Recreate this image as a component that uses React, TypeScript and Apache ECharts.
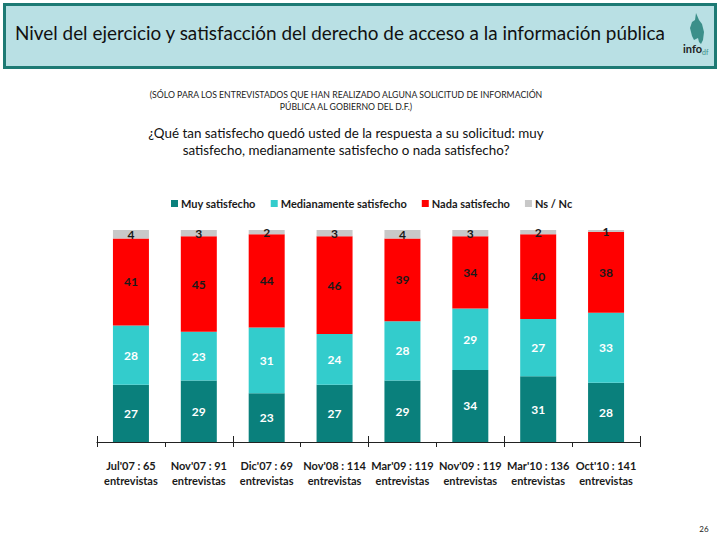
import React, { useEffect, useRef } from "react";
import * as echarts from "echarts";

const categories = [
  "Jul'07 : 65\nentrevistas",
  "Nov'07 : 91\nentrevistas",
  "Dic'07 : 69\nentrevistas",
  "Nov'08 : 114\nentrevistas",
  "Mar'09 : 119\nentrevistas",
  "Nov'09 : 119\nentrevistas",
  "Mar'10 : 136\nentrevistas",
  "Oct'10 : 141\nentrevistas",
];
const muySatisfecho = [27, 29, 23, 27, 29, 34, 31, 28];
const medianamente = [28, 23, 31, 24, 28, 29, 27, 33];
const nadaSatisfecho = [41, 45, 44, 46, 39, 34, 40, 38];
const nsNc = [4, 3, 2, 3, 4, 3, 2, 1];

const FONT = "Lato, 'Open Sans', sans-serif";

export default function App() {
  const ref = useRef<HTMLDivElement>(null);
  useEffect(() => {
    if (!ref.current) return;
    const chart = echarts.init(ref.current, undefined, { renderer: "svg" });
    const lbl = (color: string) => ({
      show: true,
      position: "inside" as const,
      color,
      fontFamily: FONT,
      fontWeight: "bold" as const,
      fontSize: 12,
    });
    chart.setOption({
      animation: false,
      backgroundColor: "#ffffff",
      textStyle: { fontFamily: FONT },
      legend: {
        left: 166,
        top: 193,
        itemWidth: 7,
        itemHeight: 7,
        itemGap: 15,
        icon: "rect",
        textStyle: { fontFamily: FONT, fontWeight: "bold", fontSize: 11, color: "#1a1a1a", padding: [0, 0, 0, -2] },
        data: ["Muy satisfecho", "Medianamente satisfecho", "Nada satisfecho", "Ns / Nc"],
      },
      grid: { left: 97, right: 80, top: 230, bottom: 98 },
      xAxis: [
        {
          type: "category",
          data: categories,
          axisLine: { show: true, lineStyle: { color: "#222", width: 1.2 } },
          axisTick: { show: true, length: 5, lineStyle: { color: "#222" } },
          axisLabel: {
            interval: 0,
            margin: 16,
            fontFamily: FONT,
            fontWeight: "bold",
            fontSize: 11,
            lineHeight: 15,
            color: "#1a1a1a",
          },
        },
        {
          type: "category",
          data: categories,
          position: "bottom",
          axisLine: { show: false },
          axisTick: { show: true, inside: true, length: 6, lineStyle: { color: "#222" } },
          axisLabel: { show: false },
        },
      ],
      yAxis: { type: "value", min: 0, max: 100, show: false },
      series: [
        {
          name: "Muy satisfecho",
          type: "bar",
          stack: "t",
          barWidth: 36,
          data: muySatisfecho,
          itemStyle: { color: "#0a807c" },
          label: lbl("#ffffff"),
        },
        {
          name: "Medianamente satisfecho",
          type: "bar",
          stack: "t",
          data: medianamente,
          itemStyle: { color: "#33cccc" },
          label: lbl("#ffffff"),
        },
        {
          name: "Nada satisfecho",
          type: "bar",
          stack: "t",
          data: nadaSatisfecho,
          itemStyle: { color: "#ff0000" },
          label: lbl("#1a1a1a"),
        },
        {
          name: "Ns / Nc",
          type: "bar",
          stack: "t",
          data: nsNc,
          itemStyle: { color: "#c8c8c8" },
          label: lbl("#1a1a1a"),
        },
      ],
      graphic: [
        {
          type: "rect",
          shape: { x: 4.5, y: 4.5, width: 711, height: 63 },
          style: { fill: "#b9e0e4", stroke: "#1d7a74", lineWidth: 3 },
        },
        {
          type: "text",
          left: 15,
          top: 23,
          style: {
            text: "Nivel del ejercicio y satisfacción del derecho de acceso a la información pública",
            fontFamily: FONT,
            fontSize: 18.9,
            fill: "#111",
          },
        },
        {
          type: "polygon",
          shape: {
            points: [
              [696, 13], [699, 20], [702, 24], [704, 32], [703, 40], [701, 44],
              [699, 42], [698, 38], [694, 40], [692, 36], [690, 28], [692, 22], [695, 20],
            ],
          },
          style: { fill: "#3b8f8a" },
        },
        {
          type: "text",
          left: 683,
          top: 43,
          style: { text: "info", fontFamily: FONT, fontWeight: "bold", fontSize: 11, fill: "#222" },
        },
        {
          type: "text",
          left: 702,
          top: 48,
          style: { text: "df", fontFamily: FONT, fontSize: 7, fill: "#3b8f8a" },
        },
        {
          type: "text",
          x: 346,
          y: 100,
          style: {
            text: "(SÓLO PARA LOS ENTREVISTADOS QUE HAN REALIZADO ALGUNA SOLICITUD DE INFORMACIÓN\nPÚBLICA AL GOBIERNO DEL D.F.)",
            fontFamily: FONT,
            fontSize: 8.7,
            lineHeight: 12,
            align: "center",
            verticalAlign: "middle",
            fill: "#222",
          },
        },
        {
          type: "text",
          x: 346,
          y: 141,
          style: {
            text: "¿Qué tan satisfecho quedó usted de la respuesta a su solicitud: muy\nsatisfecho, medianamente satisfecho o nada satisfecho?",
            fontFamily: FONT,
            fontSize: 13.4,
            lineHeight: 17,
            align: "center",
            verticalAlign: "middle",
            fill: "#111",
          },
        },
        {
          type: "text",
          x: 704,
          y: 529,
          style: { text: "26", fontFamily: FONT, fontSize: 8, align: "center", verticalAlign: "middle", fill: "#222" },
        },
      ],
    });
    return () => chart.dispose();
  }, []);
  return <div ref={ref} style={{ width: 720, height: 540, position: "absolute", left: 0, top: 0 }} />;
}
